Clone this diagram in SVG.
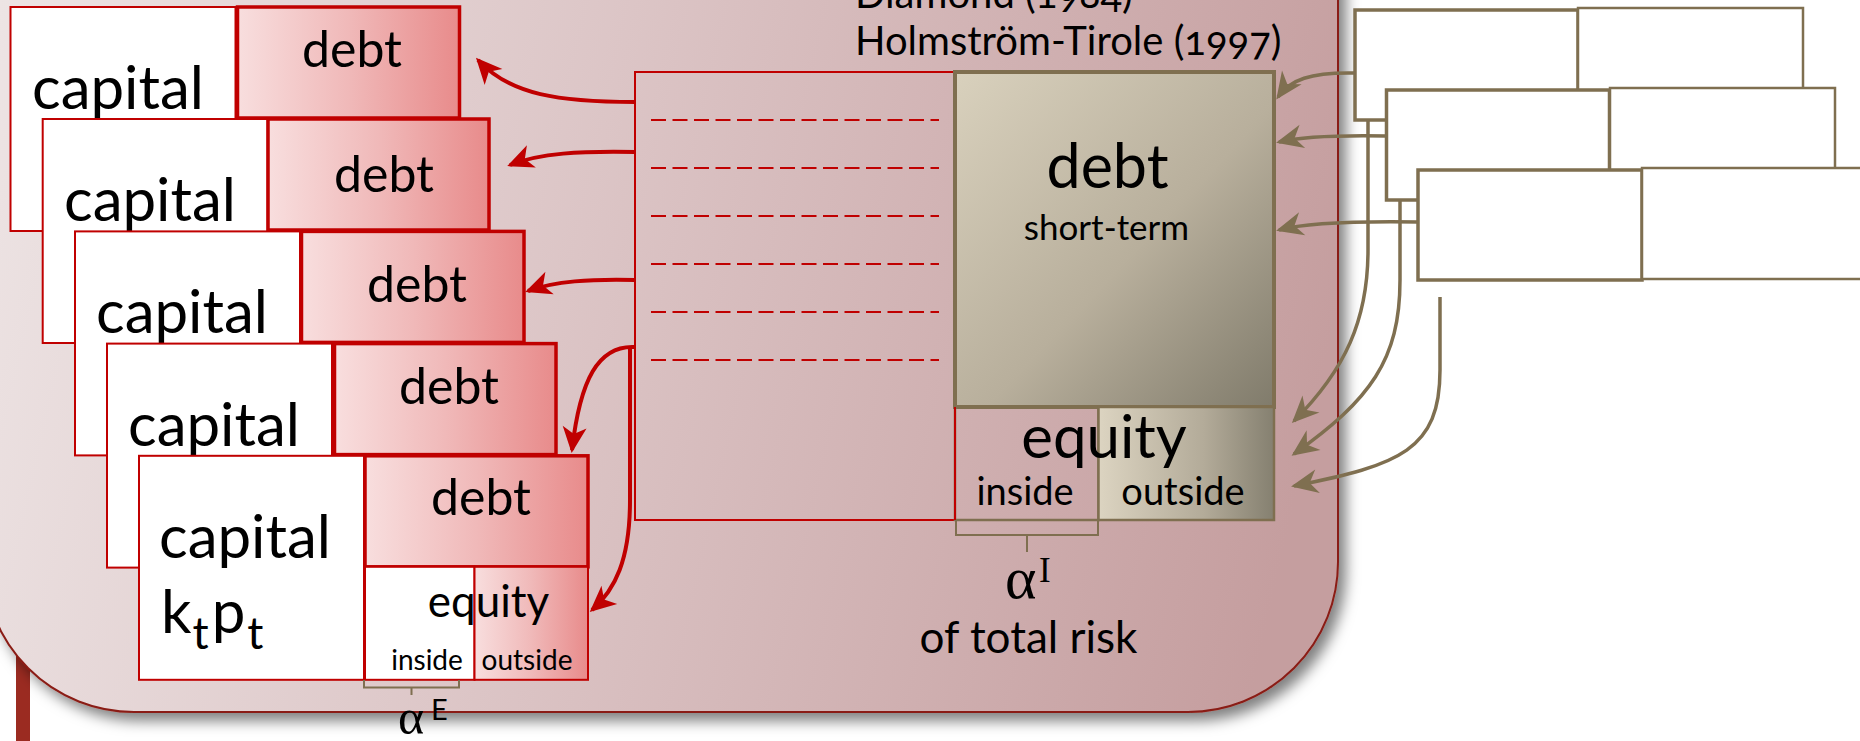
<svg xmlns="http://www.w3.org/2000/svg" width="1860" height="741" viewBox="0 0 1860 741">
<defs>
<linearGradient id="gBg" gradientUnits="userSpaceOnUse" x1="0" y1="0" x2="1340" y2="300">
<stop offset="0" stop-color="#ede4e4"/><stop offset="0.45" stop-color="#dcc5c6"/><stop offset="1" stop-color="#c59e9f"/>
</linearGradient>
<linearGradient id="gRed" x1="0" y1="0" x2="1" y2="0">
<stop offset="0" stop-color="#f8dede"/><stop offset="0.5" stop-color="#f0b9b9"/><stop offset="1" stop-color="#e88b8b"/>
</linearGradient>
<linearGradient id="gTan" x1="0" y1="0" x2="1" y2="1">
<stop offset="0" stop-color="#d9d1bd"/><stop offset="0.55" stop-color="#b8af9c"/><stop offset="1" stop-color="#807b6b"/>
</linearGradient>
<linearGradient id="gTan2" x1="0" y1="0" x2="1" y2="0">
<stop offset="0" stop-color="#dcd4c1"/><stop offset="0.6" stop-color="#b3ab99"/><stop offset="1" stop-color="#858070"/>
</linearGradient>
<filter id="sh" x="-5%" y="-5%" width="115%" height="115%">
<feDropShadow dx="7" dy="8" stdDeviation="7" flood-color="#000" flood-opacity="0.5"/>
</filter>
<marker id="arR" viewBox="-26 -13 29 26" markerWidth="29" markerHeight="26" refX="0" refY="0" orient="auto" markerUnits="userSpaceOnUse">
<path d="M3,0 L-23,-12 L-16,0 L-23,12 Z" fill="#c00000"/>
</marker>
<marker id="arB" viewBox="-27 -14 30 28" markerWidth="30" markerHeight="28" refX="0" refY="0" orient="auto" markerUnits="userSpaceOnUse">
<path d="M3,0 L-24,-12 L-16,0 L-24,12 Z" fill="#7f6f50"/>
</marker>
<style>
text{font-family:Lato,"Open Sans","Liberation Sans",sans-serif;fill:#000}
.cap{font-size:60px}
.dbt{font-size:50px;text-anchor:middle}
.capbox{fill:#fff;stroke:#c00000;stroke-width:2}
.debtbox{fill:url(#gRed);stroke:#c00000;stroke-width:3.5}
.brn{fill:#fff;stroke:#7f6f50;stroke-width:3.5}
.brn2{fill:#fff;stroke:#7f6f50;stroke-width:2.5}
.cr{fill:none;stroke:#c00000;stroke-width:4;marker-end:url(#arR)}
.cb{fill:none;stroke:#7f6f50;stroke-width:3.5;marker-end:url(#arB)}
.dash{stroke:#c00000;stroke-width:2;stroke-dasharray:15 6.5}
.br{fill:none;stroke:#7f6f50;stroke-width:2}
.mid{text-anchor:middle}
.serif{font-family:"Liberation Serif","DejaVu Serif",serif}
.cite{font-size:40px;font-variant-numeric:oldstyle-nums}
</style>
</defs>

<rect x="16" y="600" width="14" height="141" fill="#9b2b21"/>
<rect id="container" x="-16" y="-200" width="1354" height="912" rx="150" fill="url(#gBg)" stroke="#8a1c14" stroke-width="2" filter="url(#sh)"/>

<g id="citations">
<text class="cite" x="855" y="8">Diamond (1984)</text>
<text class="cite" x="855" y="55">Holmström-Tirole (1997)</text>
</g>

<g id="firm0">
<rect class="capbox" x="10.5" y="7" width="225" height="224"/>
<rect class="debtbox" x="237.5" y="7" width="222" height="111"/>
<text class="cap" x="32" y="109">capital</text>
<text class="dbt" x="352" y="67">debt</text>
</g>
<g id="firm1">
<rect class="capbox" x="42.7" y="119" width="225" height="224"/>
<rect class="debtbox" x="268" y="119" width="221" height="111"/>
<text class="cap" x="64" y="221">capital</text>
<text class="dbt" x="384" y="192">debt</text>
</g>
<g id="firm2">
<rect class="capbox" x="75" y="231.4" width="225" height="224"/>
<rect class="debtbox" x="301.5" y="231.4" width="222.5" height="111"/>
<text class="cap" x="96" y="333.4">capital</text>
<text class="dbt" x="417" y="302">debt</text>
</g>
<g id="firm3">
<rect class="capbox" x="107" y="343.6" width="225" height="224"/>
<rect class="debtbox" x="334.5" y="343.6" width="221.5" height="111"/>
<text class="cap" x="128" y="445.6">capital</text>
<text class="dbt" x="449" y="404">debt</text>
</g>
<g id="firm4">
<rect class="capbox" x="139" y="455.8" width="225" height="224"/>
<rect class="debtbox" x="365" y="455.8" width="223" height="111"/>
<rect class="capbox" x="365" y="566.8" width="109.5" height="113"/>
<rect x="474.5" y="566.8" width="113.5" height="113" fill="url(#gRed)" stroke="#c00000" stroke-width="2"/>
<text class="cap" x="159" y="558">capital</text>
<text class="cap" x="161" y="633">k<tspan font-size="45" dy="16" dx="1">t</tspan><tspan font-size="60" dy="-16" dx="3">p</tspan><tspan font-size="45" dy="16" dx="2">t</tspan></text>
<text class="dbt" x="481" y="515">debt</text>
<text class="mid" x="488.5" y="617" font-size="44">equity</text>
<text class="mid" x="427" y="670" font-size="28">inside</text>
<text class="mid" x="527" y="670" font-size="28">outside</text>
<path class="br" d="M364,680 V687.5 H459 V680 M411.5,687.5 V695"/>
<text class="serif" x="398" y="734" font-size="50">α</text>
<text x="431" y="720" font-size="29">E</text>
</g>

<g id="intermediary">
<rect x="635" y="72" width="320" height="448" fill="none" stroke="#c00000" stroke-width="2"/>
<line class="dash" x1="651" y1="120" x2="939" y2="120"/>
<line class="dash" x1="651" y1="168" x2="939" y2="168"/>
<line class="dash" x1="651" y1="216" x2="939" y2="216"/>
<line class="dash" x1="651" y1="264" x2="939" y2="264"/>
<line class="dash" x1="651" y1="312" x2="939" y2="312"/>
<line class="dash" x1="651" y1="360" x2="939" y2="360"/>
</g>

<g id="bank">
<rect x="955" y="72" width="319" height="335" fill="url(#gTan)" stroke="#7f6f50" stroke-width="4"/>
<rect x="955" y="407" width="143.5" height="113" fill="none" stroke="#7f6f50" stroke-width="2.5"/>
<rect x="1098.5" y="407" width="175.5" height="113" fill="url(#gTan2)" stroke="#7f6f50" stroke-width="2.5"/>
<line x1="955" y1="407" x2="955" y2="520" stroke="#c00000" stroke-width="2"/>
<text class="mid" x="1107.5" y="188" font-size="61">debt</text>
<text class="mid" x="1106.5" y="240" font-size="35">short-term</text>
<text class="mid" x="1104" y="458" font-size="60">equity</text>
<text class="mid" x="1025" y="505" font-size="38">inside</text>
<text class="mid" x="1183" y="505" font-size="38">outside</text>
<path class="br" d="M956,520 V535 H1098 V520 M1027,535 V552"/>
<text class="serif" x="1005" y="598" font-size="60">α</text>
<text class="serif" x="1039" y="582" font-size="35">I</text>
<text class="mid" x="1028.5" y="653" font-size="44">of total risk</text>
</g>

<g id="investors">
<rect class="brn" x="1355" y="10" width="223" height="110"/>
<rect class="brn2" x="1578" y="8" width="225" height="111"/>
<rect class="brn" x="1386.5" y="90" width="223" height="110"/>
<rect class="brn2" x="1610" y="88" width="225" height="111"/>
<rect class="brn" x="1418" y="170" width="224" height="110"/>
<rect class="brn2" x="1642" y="168" width="225" height="111"/>
</g>

<g id="connectors">
<path class="cr" d="M635,102 C560,102 510,95 478,60"/>
<path class="cr" d="M635,152 C580,151 540,153 510,165"/>
<path class="cr" d="M635,280 C590,279 555,281 528,291"/>
<path class="cr" d="M635,347 C598,345 580,380 572,450"/>
<path class="cr" d="M630,347 L630,500 C630,560 615,590 592,610"/>
<path class="cb" d="M1355,73 C1310,72 1290,80 1278,97"/>
<path class="cb" d="M1386,136 C1330,135 1300,137 1279,142"/>
<path class="cb" d="M1418,222 C1350,221 1305,223 1279,230"/>
<path class="cb" d="M1368,120 L1368,250 C1368,320 1345,370 1294,421"/>
<path class="cb" d="M1400,200 L1400,280 C1400,360 1370,400 1294,454"/>
<path class="cb" d="M1440,297 L1440,370 C1440,450 1400,465 1294,486"/>
</g>
</svg>
